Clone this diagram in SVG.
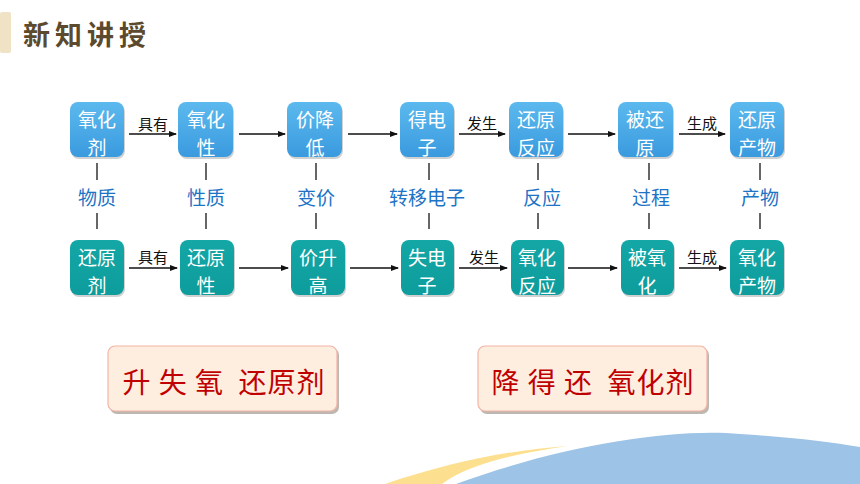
<svg xmlns="http://www.w3.org/2000/svg" width="860" height="484" viewBox="0 0 860 484">
<defs>
<linearGradient id="gb" x1="0" y1="0" x2="0" y2="1"><stop offset="0" stop-color="#5cb9ee"/><stop offset="1" stop-color="#3a9ade"/></linearGradient>
<linearGradient id="gt" x1="0" y1="0" x2="0" y2="1"><stop offset="0" stop-color="#13a7a6"/><stop offset="1" stop-color="#0e9c9c"/></linearGradient>
<marker id="ah" markerWidth="8" markerHeight="8" refX="7" refY="4" orient="auto" markerUnits="userSpaceOnUse"><path d="M0,1 L8,4 L0,7 Z" fill="#111"/></marker>
<style>
.bt{fill:url(#gb)}
.bb{fill:url(#gt)}
.sh{fill:#000;opacity:0.18}
.nt{font-family:"Noto Sans CJK SC","Noto Sans",sans-serif;font-size:19px;fill:#fff;text-anchor:middle}
.ml{font-family:"Noto Sans CJK SC","Noto Sans",sans-serif;font-size:19px;fill:#1d73c6;text-anchor:middle}
.al{font-family:"Noto Sans CJK SC","Noto Sans",sans-serif;font-size:15px;fill:#111;text-anchor:middle}
.ar{stroke:#111;stroke-width:1.5;fill:none;marker-end:url(#ah)}
.vl{stroke:#333;stroke-width:1.5}
.rb{fill:#fdeedf;stroke:#f3b4a8;stroke-width:1.2}
.rs{fill:#a09890;opacity:0.7}
.rt{font-family:"Noto Sans CJK SC","Noto Sans",sans-serif;font-size:28px;fill:#c00000;text-anchor:middle;letter-spacing:1px}
</style>
</defs>
<rect width="860" height="484" fill="#fff"/>
<g id="title">
<rect x="0" y="12" width="11" height="41" rx="2" fill="#f0e2c4"/>
<text x="23" y="45" font-family="'Noto Sans CJK SC',serif" font-size="27" font-weight="bold" fill="#5b4a2e" letter-spacing="5">新知讲授</text>
</g>
<g id="decor">
<path d="M385,484 C450,462 510,450 568,446 C520,453 470,463 442,484 Z" fill="#fde08f"/>
<path d="M456,484 C560,446 670,428 740,434 C790,437 830,442 860,447 L860,484 Z" fill="#9dc3e6"/>
</g>
<g id="connectors">
<line class="ar" x1="129" y1="134" x2="176" y2="134"/>
<line class="ar" x1="239" y1="134" x2="285" y2="134"/>
<line class="ar" x1="348" y1="134" x2="397" y2="134"/>
<line class="ar" x1="459" y1="134" x2="505" y2="134"/>
<line class="ar" x1="568" y1="134" x2="615" y2="134"/>
<line class="ar" x1="679" y1="134" x2="725" y2="134"/>
<line class="ar" x1="129" y1="268" x2="177" y2="268"/>
<line class="ar" x1="239" y1="268" x2="288" y2="268"/>
<line class="ar" x1="350" y1="268" x2="398" y2="268"/>
<line class="ar" x1="459" y1="268" x2="507" y2="268"/>
<line class="ar" x1="568" y1="268" x2="617" y2="268"/>
<line class="ar" x1="679" y1="268" x2="726" y2="268"/>
<text class="al" x="153" y="130">具有</text>
<text class="al" x="482" y="129">发生</text>
<text class="al" x="702" y="129">生成</text>
<text class="al" x="153" y="263">具有</text>
<text class="al" x="484" y="263">发生</text>
<text class="al" x="702" y="263">生成</text>
<g>
<line class="vl" x1="97" y1="163" x2="97" y2="180"/><line class="vl" x1="97" y1="213" x2="97" y2="229"/>
<line class="vl" x1="206" y1="163" x2="206" y2="180"/><line class="vl" x1="206" y1="213" x2="206" y2="229"/>
<line class="vl" x1="316" y1="163" x2="316" y2="180"/><line class="vl" x1="316" y1="213" x2="316" y2="229"/>
<line class="vl" x1="429" y1="163" x2="429" y2="180"/><line class="vl" x1="429" y1="213" x2="429" y2="229"/>
<line class="vl" x1="538" y1="163" x2="538" y2="180"/><line class="vl" x1="538" y1="213" x2="538" y2="229"/>
<line class="vl" x1="649" y1="163" x2="649" y2="180"/><line class="vl" x1="649" y1="213" x2="649" y2="229"/>
<line class="vl" x1="760" y1="163" x2="760" y2="180"/><line class="vl" x1="760" y1="213" x2="760" y2="229"/>
</g>
<text class="ml" x="97" y="205">物质</text>
<text class="ml" x="206" y="205">性质</text>
<text class="ml" x="316" y="205">变价</text>
<text class="ml" x="427" y="205">转移电子</text>
<text class="ml" x="542" y="205">反应</text>
<text class="ml" x="651" y="205">过程</text>
<text class="ml" x="760" y="205">产物</text>
</g>
<g id="n1"><rect class="sh" x="71" y="104" width="54" height="55" rx="8"/><rect class="bt" x="70" y="102" width="54" height="55" rx="8"/><text class="nt" x="97" y="127">氧化</text><text class="nt" x="97" y="155">剂</text></g>
<g id="n2"><rect class="sh" x="179" y="104" width="55" height="55" rx="8"/><rect class="bt" x="178" y="102" width="55" height="55" rx="8"/><text class="nt" x="206" y="127">氧化</text><text class="nt" x="206" y="155">性</text></g>
<g id="n3"><rect class="sh" x="288" y="104" width="55" height="55" rx="8"/><rect class="bt" x="287" y="102" width="55" height="55" rx="8"/><text class="nt" x="315" y="127">价降</text><text class="nt" x="315" y="155">低</text></g>
<g id="n4"><rect class="sh" x="401" y="104" width="54" height="55" rx="8"/><rect class="bt" x="400" y="102" width="54" height="55" rx="8"/><text class="nt" x="427" y="127">得电</text><text class="nt" x="427" y="155">子</text></g>
<g id="n5"><rect class="sh" x="510" y="104" width="54" height="55" rx="8"/><rect class="bt" x="509" y="102" width="54" height="55" rx="8"/><text class="nt" x="536" y="127">还原</text><text class="nt" x="536" y="155">反应</text></g>
<g id="n6"><rect class="sh" x="619" y="104" width="55" height="55" rx="8"/><rect class="bt" x="618" y="102" width="55" height="55" rx="8"/><text class="nt" x="645" y="127">被还</text><text class="nt" x="645" y="155">原</text></g>
<g id="n7"><rect class="sh" x="731" y="104" width="54" height="55" rx="8"/><rect class="bt" x="730" y="102" width="54" height="55" rx="8"/><text class="nt" x="757" y="127">还原</text><text class="nt" x="757" y="155">产物</text></g>
<g id="m1"><rect class="sh" x="71" y="242" width="54" height="55" rx="8"/><rect class="bb" x="70" y="240" width="54" height="55" rx="8"/><text class="nt" x="97" y="265">还原</text><text class="nt" x="97" y="293">剂</text></g>
<g id="m2"><rect class="sh" x="181" y="242" width="54" height="55" rx="8"/><rect class="bb" x="180" y="240" width="54" height="55" rx="8"/><text class="nt" x="206" y="265">还原</text><text class="nt" x="206" y="293">性</text></g>
<g id="m3"><rect class="sh" x="292" y="242" width="54" height="55" rx="8"/><rect class="bb" x="291" y="240" width="54" height="55" rx="8"/><text class="nt" x="318" y="265">价升</text><text class="nt" x="318" y="293">高</text></g>
<g id="m4"><rect class="sh" x="402" y="242" width="53" height="55" rx="8"/><rect class="bb" x="401" y="240" width="53" height="55" rx="8"/><text class="nt" x="427" y="265">失电</text><text class="nt" x="427" y="293">子</text></g>
<g id="m5"><rect class="sh" x="512" y="242" width="53" height="55" rx="8"/><rect class="bb" x="511" y="240" width="53" height="55" rx="8"/><text class="nt" x="537" y="265">氧化</text><text class="nt" x="537" y="293">反应</text></g>
<g id="m6"><rect class="sh" x="622" y="242" width="53" height="55" rx="8"/><rect class="bb" x="621" y="240" width="53" height="55" rx="8"/><text class="nt" x="647" y="265">被氧</text><text class="nt" x="647" y="293">化</text></g>
<g id="m7"><rect class="sh" x="731" y="242" width="54" height="55" rx="8"/><rect class="bb" x="730" y="240" width="54" height="55" rx="8"/><text class="nt" x="757" y="265">氧化</text><text class="nt" x="757" y="293">产物</text></g>
<g id="r1"><rect class="rs" x="110" y="348" width="229" height="66" rx="7"/><rect class="rb" x="108" y="346" width="229" height="65" rx="7"/><text class="rt" x="224" y="393" xml:space="preserve">升 失 氧  还原剂</text></g>
<g id="r2"><rect class="rs" x="480" y="348" width="229" height="66" rx="7"/><rect class="rb" x="478" y="346" width="229" height="65" rx="7"/><text class="rt" x="593" y="393" xml:space="preserve">降 得 还  氧化剂</text></g>
</svg>
